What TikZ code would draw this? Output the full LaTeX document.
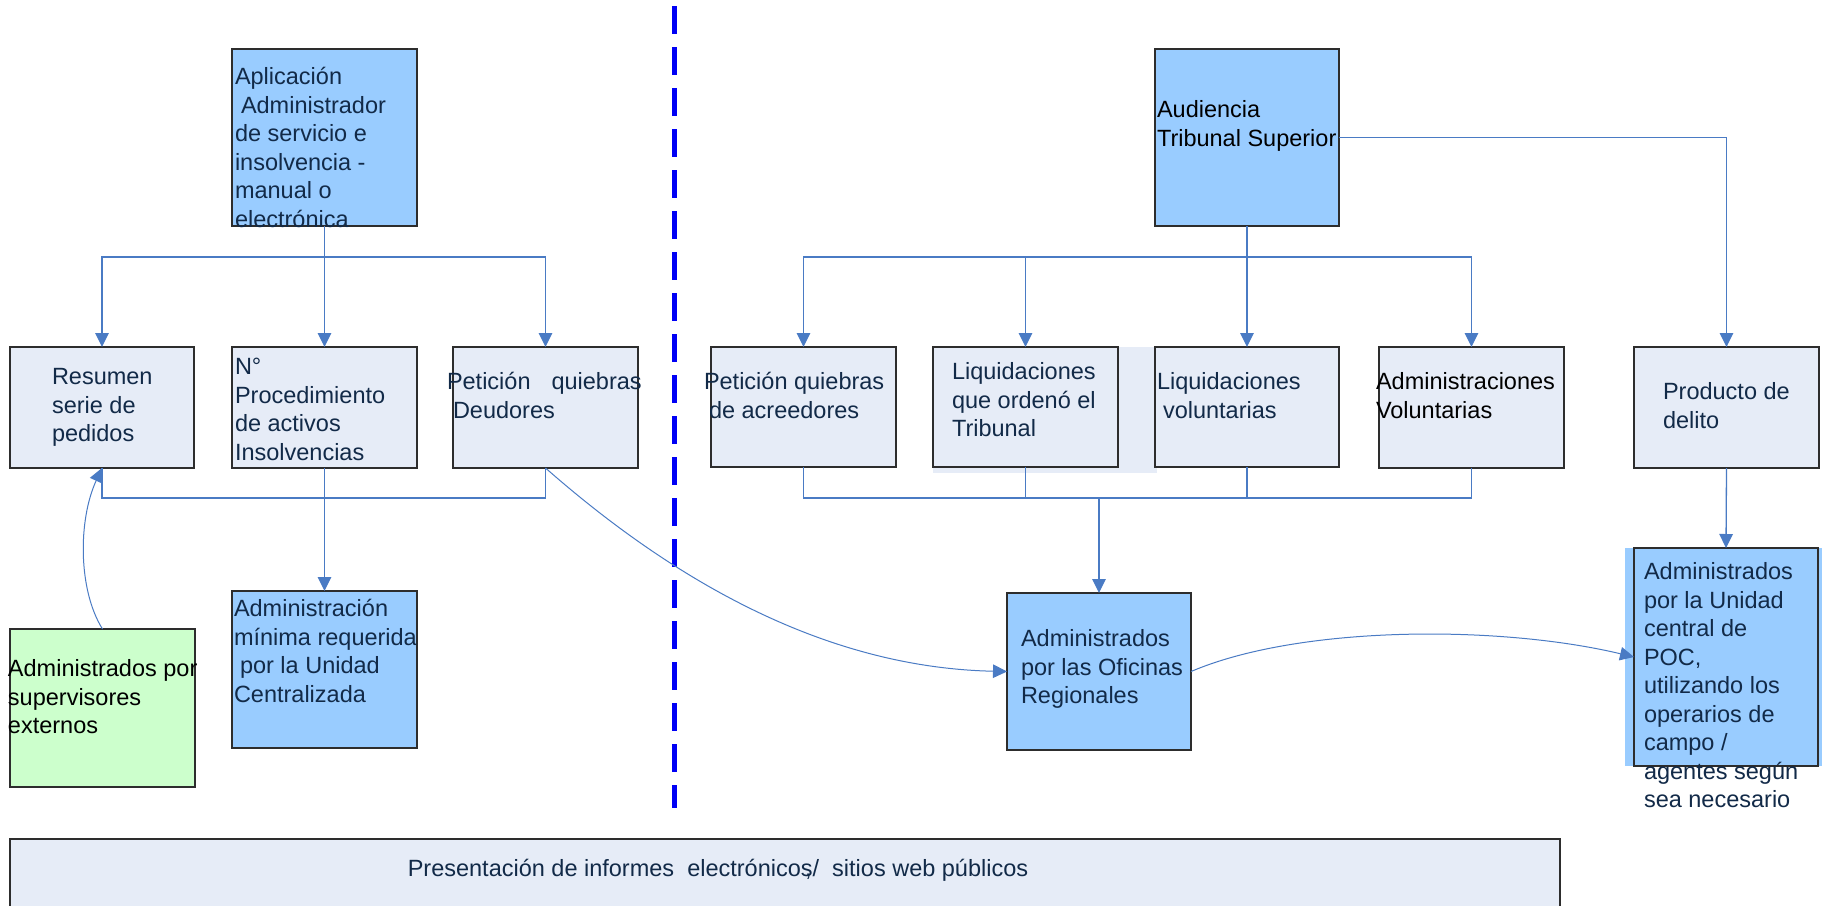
\documentclass[tikz,border=0pt]{standalone}
\usepackage{fontspec}
\setmainfont{Liberation Sans}
\usetikzlibrary{arrows.meta}
\definecolor{lightc}{RGB}{230,236,247}
\definecolor{bluec}{RGB}{153,204,255}
\definecolor{greenc}{RGB}{204,255,204}
\definecolor{bordc}{RGB}{45,45,45}
\definecolor{linec}{RGB}{74,123,196}
\definecolor{navyc}{RGB}{18,42,72}
\definecolor{dashc}{RGB}{0,0,245}
\tikzset{
  box/.style={draw=bordc, line width=1.4pt, inner sep=0pt, outer sep=0pt, anchor=north west},
  lbox/.style={box, fill=lightc},
  bbox/.style={box, fill=bluec},
  gbox/.style={box, fill=greenc},
  txt/.style={anchor=north west, inner sep=0pt, outer sep=0pt, align=left,
    font=\fontsize{23.5}{28.5}\selectfont, text=navyc},
  btxt/.style={txt, text=black},
  conn/.style={draw=linec, line width=1.3pt},
  tip/.style={-{Triangle[length=14pt,width=13.5pt]}},
  arr/.style={conn, tip},
  curve/.style={draw=linec, line width=1pt, tip},
}
\begin{document}
\begin{tikzpicture}[x=1pt,y=-1pt]
\useasboundingbox (0,0) rectangle (1828,905);
\fill[white] (0,0) rectangle (1828,905);

% dashed divider
\coordinate (dtop) at (674.5,6);
\coordinate (dbot) at (674.5,808);
\draw[dashc, line width=4.3pt, dash pattern=on 28pt off 13pt] (dtop) -- (dbot);

% shadow behind Liquidaciones Tribunal
\fill[lightc] (933,347) rectangle (1157,473);
% extra fill left of POC box
\fill[bluec] (1625,548) rectangle (1822,766);

% boxes
\node[bbox, minimum width=185pt, minimum height=177pt] (apl) at (232,49) {};
\node[lbox, minimum width=184pt, minimum height=121pt] (resumen) at (10,347) {};
\node[lbox, minimum width=185pt, minimum height=121pt] (num) at (232,347) {};
\node[lbox, minimum width=185pt, minimum height=121pt] (pdeu) at (453,347) {};
\node[bbox, minimum width=185pt, minimum height=157pt] (admmin) at (232,591) {};
\node[gbox, minimum width=185pt, minimum height=158pt] (ext) at (10,629) {};
\node[bbox, minimum width=184pt, minimum height=177pt] (aud) at (1155,49) {};
\node[lbox, minimum width=185pt, minimum height=120pt] (pacr) at (711,347) {};
\node[lbox, minimum width=185pt, minimum height=120pt] (liqt) at (933,347) {};
\node[lbox, minimum width=184pt, minimum height=120pt] (liqv) at (1155,347) {};
\node[lbox, minimum width=185pt, minimum height=121pt] (admvol) at (1379,347) {};
\node[lbox, minimum width=185pt, minimum height=121pt] (prod) at (1634,347) {};
\node[bbox, minimum width=184pt, minimum height=157pt] (ofic) at (1007,593) {};
\node[bbox, minimum width=184pt, minimum height=218pt] (poc) at (1634,548) {};
\node[lbox, minimum width=1550pt, minimum height=75pt] (pres) at (10,839) {};

% texts
\node[txt] (t-apl) at (235,65) {\strut Aplicación\\\hspace*{6pt}Administrador\\de servicio e\\insolvencia -\\manual o\\electrónica};
\node[txt] (t-res) at (52,365) {\strut Resumen\\serie de\\pedidos};
\node[txt] (t-num) at (235,355) {\strut N°\\Procedimiento\\de activos\\Insolvencias};
\node[txt] (t-pdeu) at (447,370) {\strut Petición\hspace{21pt}quiebras\\\hspace*{6pt}Deudores};
\node[btxt] (t-aud) at (1157,98) {\strut Audiencia\\Tribunal Superior};
\node[txt] (t-pacr) at (704,370) {\strut Petición quiebras\\\hspace*{5pt}de acreedores};
\node[txt] (t-liqt) at (952,360) {\strut Liquidaciones\\que ordenó el\\Tribunal};
\node[txt] (t-liqv) at (1157,370) {\strut Liquidaciones\\\hspace*{6pt}voluntarias};
\node[btxt] (t-admvol) at (1376,370) {\strut Administraciones\\Voluntarias};
\node[txt] (t-prod) at (1663,380) {\strut Producto de\\delito};
\node[txt] (t-admmin) at (234,597) {\strut Administración\\mínima requerida\\\hspace*{6pt}por la Unidad\\Centralizada};
\node[btxt] (t-ext) at (8,657) {\strut Administrados por\\supervisores\\externos};
\node[txt] (t-ofic) at (1021,627) {\strut Administrados\\por las Oficinas\\Regionales};
\node[txt] (t-poc) at (1644,560) {\strut Administrados\\por la Unidad\\central de\\POC,\\utilizando los\\operarios de\\campo /\\agentes según\\sea necesario};
\node[anchor=base, inner sep=0pt, text=navyc, font=\fontsize{23.5}{28}\selectfont] (t-pres) at (718,876)
  {Presentación de informes\ \ electrónicos\llap{,\kern1pt}/\ \ sitios web públicos};

% connector levels
\coordinate (bl) at (0,257);
\coordinate (jl) at (0,498);

% left tree
\draw[conn] (apl.south) -- (apl.south |- bl);
\draw[arr] (apl.south |- bl) -| (resumen.north);
\draw[arr] (apl.south |- bl) -| (pdeu.north);
\draw[arr] (apl.south) -- (num.north);
\draw[conn] (resumen.south) -- (resumen.south |- jl) -| (pdeu.south);
\draw[arr] (num.south) -- (admmin.north);
\draw[curve] (ext.north) .. controls (78,590) and (78,520) .. (resumen.south);
\draw[curve] (pdeu.south) .. controls (690,595) and (840,668) .. (ofic.west);

% right tree
\draw[conn] (aud.south) -- (aud.south |- bl);
\draw[arr] (aud.south |- bl) -| (pacr.north);
\draw[arr] (aud.south |- bl) -| (liqt.north);
\draw[arr] (aud.south |- bl) -| (admvol.north);
\draw[arr] (aud.south) -- (liqv.north);
\draw[arr] (aud.east) -| (prod.north);
\draw[conn] (pacr.south) -- (pacr.south |- jl) -| (admvol.south);
\draw[conn] (liqt.south) -- (liqt.south |- jl);
\draw[conn] (liqv.south) -- (liqv.south |- jl);
\draw[arr] (ofic.north |- jl) -- (ofic.north);
\draw[arr] (prod.south) -- (poc.north);
\draw[curve] (ofic.east) .. controls (1300,625) and (1500,625) .. (poc.west);
\end{tikzpicture}
\end{document}
